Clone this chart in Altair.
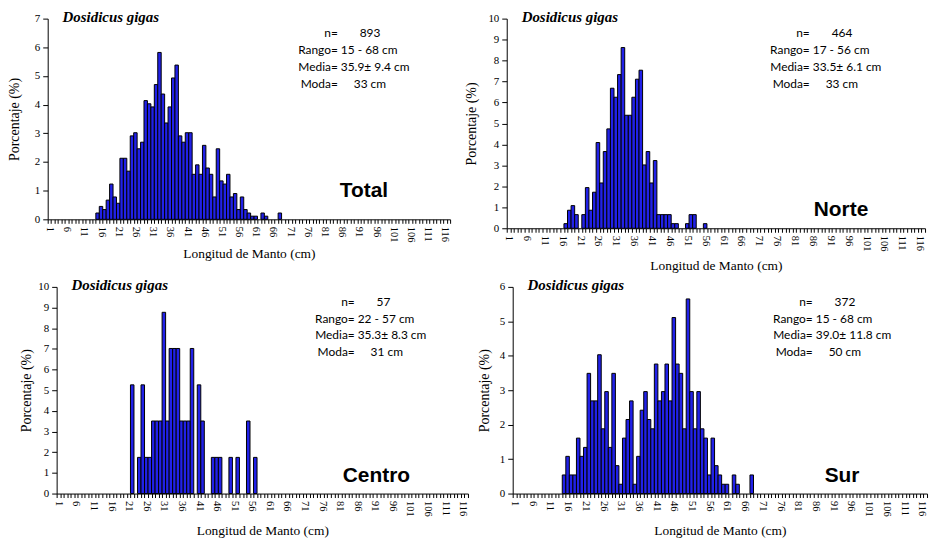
import altair as alt
import pandas as pd

# ---------------- data ----------------
lengths = list(range(15, 69))          # Longitud de manto (cm), categories with data
axis_categories = list(range(1, 118))  # full category axis

total_pct = [0.22, 0.45, 0.34, 0.67, 1.23, 0.78, 0.56, 2.13, 2.13, 1.68,
             2.91, 3.02, 2.46, 2.69, 4.14, 4.03, 3.92, 4.70, 5.82, 4.37,
             3.36, 3.92, 4.93, 5.38, 2.91, 2.69, 3.02, 3.02, 1.57, 1.90,
             1.57, 2.58, 1.79, 1.57, 0.78, 2.46, 1.34, 1.23, 1.57, 0.78,
             0.90, 0.34, 0.78, 0.34, 0.22, 0.11, 0.11, 0.00, 0.22, 0.11,
             0.00, 0.00, 0.00, 0.22]
norte_pct = [0.00, 0.00, 0.22, 0.86, 1.08, 0.65, 0.00, 0.65, 1.94, 0.86,
             1.72, 4.09, 2.16, 3.66, 4.74, 6.68, 6.25, 7.33, 8.62, 5.39,
             5.39, 6.25, 7.11, 7.54, 3.02, 3.66, 2.16, 3.23, 0.65, 0.65,
             0.65, 0.65, 0.22, 0.22, 0.00, 0.00, 0.22, 0.65, 0.65, 0.00,
             0.00, 0.22, 0.00, 0.00, 0.00, 0.00, 0.00, 0.00, 0.00, 0.00,
             0.00, 0.00, 0.00, 0.00]
centro_pct = [0.00, 0.00, 0.00, 0.00, 0.00, 0.00, 0.00, 5.26, 0.00, 1.75,
              5.26, 1.75, 1.75, 3.51, 3.51, 3.51, 8.77, 3.51, 7.02, 7.02,
              7.02, 3.51, 3.51, 3.51, 7.02, 0.00, 5.26, 3.51, 0.00, 0.00,
              1.75, 1.75, 1.75, 0.00, 0.00, 1.75, 0.00, 1.75, 0.00, 0.00,
              3.51, 0.00, 1.75, 0.00, 0.00, 0.00, 0.00, 0.00, 0.00, 0.00,
              0.00, 0.00, 0.00, 0.00]
sur_pct = [0.54, 1.08, 0.54, 0.54, 1.61, 1.08, 1.34, 3.49, 2.69, 2.69,
           4.03, 1.88, 2.96, 1.34, 3.49, 0.81, 0.27, 1.61, 2.15, 2.69,
           0.27, 1.08, 2.42, 2.96, 2.15, 1.88, 3.76, 2.69, 2.96, 3.76,
           2.69, 5.11, 3.76, 3.49, 1.88, 5.65, 2.96, 1.88, 2.96, 1.88,
           1.61, 0.54, 1.61, 0.81, 0.54, 0.27, 0.27, 0.00, 0.54, 0.27,
           0.00, 0.00, 0.00, 0.54]

species = "Dosidicus gigas"
stat_labels = ["n=", "Rango=", "Media=", "Moda="]
total_stats = ["893", "15 - 68 cm", "35.9± 9.4 cm", "33 cm"]
norte_stats = ["464", "17 - 56 cm", "33.5± 6.1 cm", "33 cm"]
centro_stats = ["57", "22 - 57 cm", "35.3± 8.3 cm", "31 cm"]
sur_stats = ["372", "15 - 68 cm", "39.0± 11.8 cm", "50 cm"]

SERIF = "Liberation Serif"
SANS = "Lato"
BLUE = "#2121E8"


def txt(text, x, y, **kw):
    return alt.Chart(pd.DataFrame({"t": [text]})).mark_text(**kw).encode(
        text="t:N", x=alt.value(x), y=alt.value(y))


def panel(name, pct, stats, ymax, plot_w, height, title_pad, xtitle_pad,
          stats_x, name_x, name_y, shift=0):
    # shift: the x axis / y axis start `shift` px inside the cell
    df = pd.DataFrame({"Longitud": lengths, "Porcentaje": pct})
    df = df[df["Porcentaje"] > 0]
    bars = alt.Chart(df).mark_bar(color=BLUE, stroke="#000000",
                                  strokeWidth=1).encode(
        x=alt.X("Longitud:O",
                scale=alt.Scale(domain=axis_categories, paddingInner=0,
                                paddingOuter=0,
                                range=[shift, shift + plot_w]),
                axis=alt.Axis(title="Longitud  de Manto (cm)",
                              labelExpr="(datum.value - 1) % 5 == 0 ? datum.label : ''",
                              labelAngle=90, labelOverlap=False,
                              tickBand="extent", tickSize=4, labelPadding=3,
                              labelFont=SERIF, labelFontSize=10.5,
                              titleFont=SERIF, titleFontSize=13.5,
                              titleFontWeight="normal", titlePadding=xtitle_pad,
                              domainColor="#000000", tickColor="#000000",
                              labelColor="#000000", titleColor="#000000")),
        y=alt.Y("Porcentaje:Q",
                scale=alt.Scale(domain=[0, ymax], nice=False),
                axis=alt.Axis(title="Porcentaje  (%)",
                              values=list(range(0, ymax + 1)), grid=False,
                              offset=-shift,
                              tickSize=5, labelPadding=3,
                              labelFont=SERIF, labelFontSize=11,
                              titleFont=SERIF, titleFontSize=14,
                              titleFontWeight="normal", titlePadding=title_pad,
                              domainColor="#000000", tickColor="#000000",
                              labelColor="#000000", titleColor="#000000")),
    )
    layers = [bars,
              txt(species, shift + 15, -2, align="left", baseline="middle",
                  font=SERIF, fontSize=15, fontStyle="italic",
                  fontWeight="bold", color="#000000")]
    offs = [22, 3, 3, 16]
    ys = [15, 32, 48.5, 65.5]
    for lab, val, off, yy in zip(stat_labels, stats, offs, ys):
        layers.append(txt(lab, shift + stats_x, yy, align="right",
                          baseline="middle", font=SANS, fontSize=12,
                          color="#000000"))
        layers.append(txt(val, shift + stats_x + off, yy, align="left",
                          baseline="middle", font=SANS, fontSize=12,
                          color="#000000"))
    layers.append(txt(name, shift + name_x, name_y, align="left",
                      baseline="middle", font="Liberation Sans", fontSize=21,
                      fontWeight="bold", color="#000000"))
    return alt.layer(*layers).properties(width=shift + plot_w, height=height)


p_total = panel("Total", total_pct, total_stats, 7, 405, 202, 12.5, 5, 292, 294, 174)
p_norte = panel("Norte", norte_pct, norte_stats, 10, 421, 211, 9, 8, 305, 309, 193)
p_centro = panel("Centro", centro_pct, centro_stats, 10, 414, 208, 4, 7, 300, 288, 190,
                 shift=9)
p_sur = panel("Sur", sur_pct, sur_stats, 6, 417, 208, 7.5, 7, 302, 314, 190)

row1 = alt.hconcat(p_total, p_norte, spacing=11)
row2 = alt.hconcat(p_centro, p_sur, spacing=6)

chart = alt.vconcat(row1, row2, spacing=5).properties(
    padding={"left": 8, "top": 8, "right": 0, "bottom": 0},
    background="white",
).configure_view(strokeWidth=0)

chart.save("out.html", embed_options={"renderer": "svg", "actions": False})
